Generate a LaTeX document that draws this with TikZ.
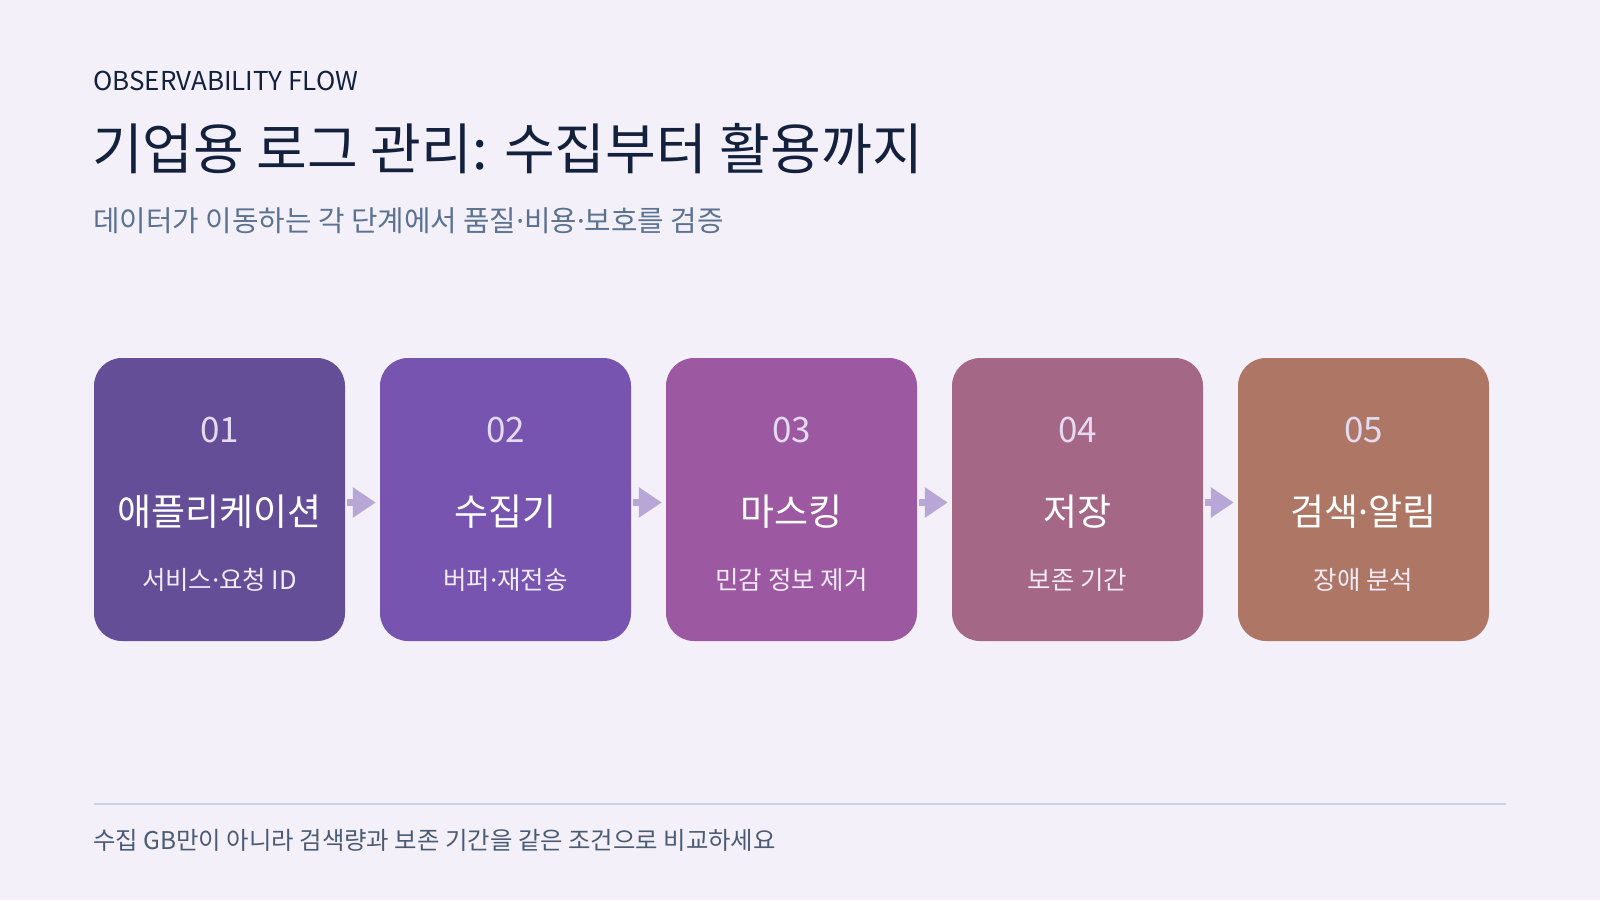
\documentclass[tikz,border=0pt]{standalone}
\usepackage{fontspec}
\setmainfont{Noto Sans CJK KR}
\newfontfamily\dotfont{Noto Sans}
\newcommand\mdot{{\dotfont ·}}
\usetikzlibrary{arrows.meta}
\definecolor{bg}{HTML}{F3F0FA}
\definecolor{titlec}{HTML}{14213D}
\definecolor{subc}{HTML}{5B7290}
\definecolor{footc}{HTML}{4B5B73}
\definecolor{rulec}{HTML}{CAD3DE}
\definecolor{arrowc}{HTML}{B8A6D6}
\definecolor{numc}{HTML}{E4DAF1}
\definecolor{smallc}{HTML}{F1EAF7}
\definecolor{boxa}{HTML}{644E97}
\definecolor{boxb}{HTML}{7654AF}
\definecolor{boxc}{HTML}{9C58A0}
\definecolor{boxd}{HTML}{A46786}
\definecolor{boxe}{HTML}{AD7665}
\tikzset{
  stagebox/.style={draw=none, rounded corners=28pt, minimum width=251pt, minimum height=283pt, inner sep=0pt},
  numtext/.style={text=numc, font=\fontsize{35}{40}\selectfont, inner sep=0pt},
  labeltext/.style={text=white, font=\fontsize{37}{44}\selectfont, inner sep=0pt},
  smalltext/.style={text=smallc, font=\fontsize{25.5}{30}\selectfont, inner sep=0pt},
  flowarrow/.style={draw=arrowc, line width=7pt, -{Triangle[length=23pt,width=29pt]}},
}
\begin{document}
\begin{tikzpicture}[x=1pt,y=-1pt]
\fill[bg] (0,0) rectangle (1600,900);
\useasboundingbox (0,0) rectangle (1600,900);

\node[anchor=west, inner sep=0pt, text=titlec, font=\fontsize{26}{32}\selectfont] (kicker) at (93,81) {OBSERVABILITY FLOW};
\node[anchor=west, inner sep=0pt, text=titlec, font=\fontsize{55.2}{62}\selectfont] (title) at (92,149) {기업용 로그 관리: 수집부터 활용까지};
\node[anchor=west, inner sep=0pt, text=subc, font=\fontsize{28.8}{34}\selectfont] (subtitle) at (93,221) {데이터가 이동하는 각 단계에서 품질\mdot 비용\mdot 보호를 검증};

\foreach \i/\c/\num/\lab/\sub in {1/boxa/01/애플리케이션/서비스\mdot 요청 ID, 2/boxb/02/수집기/버퍼\mdot 재전송, 3/boxc/03/마스킹/민감 정보 제거, 4/boxd/04/저장/보존 기간, 5/boxe/05/검색\mdot 알림/장애 분석}{
  \pgfmathsetmacro{\cx}{219.5+286*(\i-1)}
  \node[stagebox, fill=\c] (box\i) at (\cx,499.5) {};
  \node[numtext] (num\i) at (\cx,430) {\num};
  \node[labeltext] (lab\i) at (\cx,512) {\lab};
  \node[smalltext] (sub\i) at (\cx,580) {\sub};
}
\foreach \a/\b in {1/2,2/3,3/4,4/5}{
  \draw[flowarrow] ([xshift=2pt,yshift=-3pt]box\a.east) -- ([xshift=-4pt,yshift=-3pt]box\b.west);
}

\coordinate (ruleL) at (94,804);
\coordinate (ruleR) at (1506,804);
\draw[rulec, line width=2pt] (ruleL) -- (ruleR);
\node[anchor=west, inner sep=0pt, text=footc, font=\fontsize{24.4}{28}\selectfont] (footer) at (93,840) {수집 GB만이 아니라 검색량과 보존 기간을 같은 조건으로 비교하세요};
\end{tikzpicture}
\end{document}
